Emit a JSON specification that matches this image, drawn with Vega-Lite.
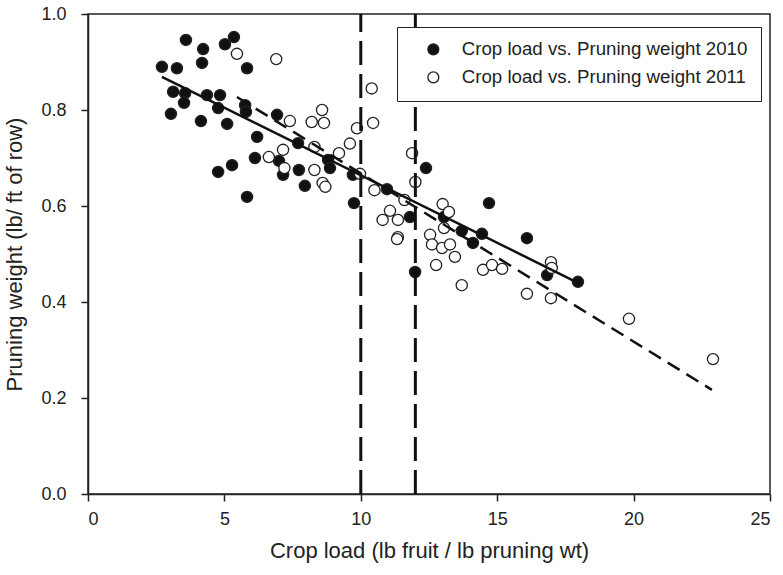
{
  "$schema": "https://vega.github.io/schema/vega-lite/v6.json",
  "width": 682,
  "height": 480,
  "autosize": "none",
  "padding": {"left": 88, "top": 14, "right": 13, "bottom": 81},
  "background": "white",
  "config": {
    "font": "Liberation Sans",
    "view": {"stroke": "#222", "strokeWidth": 1.5},
    "axis": {"grid": false, "domainColor": "#222", "domainWidth": 1.5, "tickColor": "#222", "tickWidth": 1.5, "tickSize": 7, "labelColor": "#222", "titleColor": "#222", "labelFontSize": 18, "titleFontWeight": "normal", "labelFont": "Liberation Sans", "titleFont": "Liberation Sans"},
    "legend": {"orient": "none", "legendX": 309, "legendY": 13, "strokeColor": "#222", "fillColor": "white", "padding": 13, "symbolOffset": 14, "labelOffset": 19, "rowPadding": 8, "labelFontSize": 18.7, "labelColor": "#222", "labelLimit": 400, "symbolSize": 120, "symbolStrokeWidth": 1.3, "symbolStrokeColor": "#222", "symbolType": "circle"}
  },
  "datasets": {
    "pts": [
      {"load": 2.71, "pruning": 0.89, "series": "Crop load vs. Pruning weight 2010"},
      {"load": 3.26, "pruning": 0.887, "series": "Crop load vs. Pruning weight 2010"},
      {"load": 3.59, "pruning": 0.946, "series": "Crop load vs. Pruning weight 2010"},
      {"load": 4.22, "pruning": 0.927, "series": "Crop load vs. Pruning weight 2010"},
      {"load": 4.18, "pruning": 0.898, "series": "Crop load vs. Pruning weight 2010"},
      {"load": 5.02, "pruning": 0.937, "series": "Crop load vs. Pruning weight 2010"},
      {"load": 5.35, "pruning": 0.952, "series": "Crop load vs. Pruning weight 2010"},
      {"load": 5.83, "pruning": 0.887, "series": "Crop load vs. Pruning weight 2010"},
      {"load": 3.12, "pruning": 0.838, "series": "Crop load vs. Pruning weight 2010"},
      {"load": 3.56, "pruning": 0.835, "series": "Crop load vs. Pruning weight 2010"},
      {"load": 3.52, "pruning": 0.815, "series": "Crop load vs. Pruning weight 2010"},
      {"load": 4.36, "pruning": 0.831, "series": "Crop load vs. Pruning weight 2010"},
      {"load": 4.84, "pruning": 0.831, "series": "Crop load vs. Pruning weight 2010"},
      {"load": 4.77, "pruning": 0.804, "series": "Crop load vs. Pruning weight 2010"},
      {"load": 3.04, "pruning": 0.792, "series": "Crop load vs. Pruning weight 2010"},
      {"load": 4.14, "pruning": 0.777, "series": "Crop load vs. Pruning weight 2010"},
      {"load": 5.10, "pruning": 0.771, "series": "Crop load vs. Pruning weight 2010"},
      {"load": 5.76, "pruning": 0.81, "series": "Crop load vs. Pruning weight 2010"},
      {"load": 5.79, "pruning": 0.796, "series": "Crop load vs. Pruning weight 2010"},
      {"load": 6.20, "pruning": 0.744, "series": "Crop load vs. Pruning weight 2010"},
      {"load": 6.12, "pruning": 0.70, "series": "Crop load vs. Pruning weight 2010"},
      {"load": 5.28, "pruning": 0.685, "series": "Crop load vs. Pruning weight 2010"},
      {"load": 4.77, "pruning": 0.671, "series": "Crop load vs. Pruning weight 2010"},
      {"load": 5.83, "pruning": 0.619, "series": "Crop load vs. Pruning weight 2010"},
      {"load": 6.93, "pruning": 0.79, "series": "Crop load vs. Pruning weight 2010"},
      {"load": 7.70, "pruning": 0.731, "series": "Crop load vs. Pruning weight 2010"},
      {"load": 8.80, "pruning": 0.696, "series": "Crop load vs. Pruning weight 2010"},
      {"load": 8.87, "pruning": 0.679, "series": "Crop load vs. Pruning weight 2010"},
      {"load": 7.00, "pruning": 0.694, "series": "Crop load vs. Pruning weight 2010"},
      {"load": 7.15, "pruning": 0.665, "series": "Crop load vs. Pruning weight 2010"},
      {"load": 7.73, "pruning": 0.675, "series": "Crop load vs. Pruning weight 2010"},
      {"load": 7.95, "pruning": 0.642, "series": "Crop load vs. Pruning weight 2010"},
      {"load": 9.71, "pruning": 0.665, "series": "Crop load vs. Pruning weight 2010"},
      {"load": 9.75, "pruning": 0.606, "series": "Crop load vs. Pruning weight 2010"},
      {"load": 10.96, "pruning": 0.635, "series": "Crop load vs. Pruning weight 2010"},
      {"load": 11.80, "pruning": 0.577, "series": "Crop load vs. Pruning weight 2010"},
      {"load": 12.39, "pruning": 0.679, "series": "Crop load vs. Pruning weight 2010"},
      {"load": 11.99, "pruning": 0.4625, "series": "Crop load vs. Pruning weight 2010"},
      {"load": 13.05, "pruning": 0.577, "series": "Crop load vs. Pruning weight 2010"},
      {"load": 13.70, "pruning": 0.548, "series": "Crop load vs. Pruning weight 2010"},
      {"load": 14.44, "pruning": 0.542, "series": "Crop load vs. Pruning weight 2010"},
      {"load": 14.11, "pruning": 0.523, "series": "Crop load vs. Pruning weight 2010"},
      {"load": 14.70, "pruning": 0.606, "series": "Crop load vs. Pruning weight 2010"},
      {"load": 16.09, "pruning": 0.533, "series": "Crop load vs. Pruning weight 2010"},
      {"load": 16.83, "pruning": 0.456, "series": "Crop load vs. Pruning weight 2010"},
      {"load": 17.96, "pruning": 0.442, "series": "Crop load vs. Pruning weight 2010"},
      {"load": 5.46, "pruning": 0.917, "series": "Crop load vs. Pruning weight 2011"},
      {"load": 6.90, "pruning": 0.906, "series": "Crop load vs. Pruning weight 2011"},
      {"load": 7.40, "pruning": 0.777, "series": "Crop load vs. Pruning weight 2011"},
      {"load": 8.58, "pruning": 0.80, "series": "Crop load vs. Pruning weight 2011"},
      {"load": 8.20, "pruning": 0.775, "series": "Crop load vs. Pruning weight 2011"},
      {"load": 8.65, "pruning": 0.773, "series": "Crop load vs. Pruning weight 2011"},
      {"load": 8.30, "pruning": 0.723, "series": "Crop load vs. Pruning weight 2011"},
      {"load": 8.30, "pruning": 0.675, "series": "Crop load vs. Pruning weight 2011"},
      {"load": 7.15, "pruning": 0.717, "series": "Crop load vs. Pruning weight 2011"},
      {"load": 6.63, "pruning": 0.702, "series": "Crop load vs. Pruning weight 2011"},
      {"load": 7.20, "pruning": 0.679, "series": "Crop load vs. Pruning weight 2011"},
      {"load": 8.60, "pruning": 0.648, "series": "Crop load vs. Pruning weight 2011"},
      {"load": 8.70, "pruning": 0.64, "series": "Crop load vs. Pruning weight 2011"},
      {"load": 9.97, "pruning": 0.667, "series": "Crop load vs. Pruning weight 2011"},
      {"load": 9.86, "pruning": 0.762, "series": "Crop load vs. Pruning weight 2011"},
      {"load": 10.45, "pruning": 0.773, "series": "Crop load vs. Pruning weight 2011"},
      {"load": 10.40, "pruning": 0.845, "series": "Crop load vs. Pruning weight 2011"},
      {"load": 9.60, "pruning": 0.73, "series": "Crop load vs. Pruning weight 2011"},
      {"load": 9.20, "pruning": 0.71, "series": "Crop load vs. Pruning weight 2011"},
      {"load": 10.50, "pruning": 0.633, "series": "Crop load vs. Pruning weight 2011"},
      {"load": 11.60, "pruning": 0.6125, "series": "Crop load vs. Pruning weight 2011"},
      {"load": 11.07, "pruning": 0.59, "series": "Crop load vs. Pruning weight 2011"},
      {"load": 10.80, "pruning": 0.571, "series": "Crop load vs. Pruning weight 2011"},
      {"load": 11.36, "pruning": 0.571, "series": "Crop load vs. Pruning weight 2011"},
      {"load": 11.36, "pruning": 0.535, "series": "Crop load vs. Pruning weight 2011"},
      {"load": 11.33, "pruning": 0.531, "series": "Crop load vs. Pruning weight 2011"},
      {"load": 11.88, "pruning": 0.71, "series": "Crop load vs. Pruning weight 2011"},
      {"load": 12.00, "pruning": 0.65, "series": "Crop load vs. Pruning weight 2011"},
      {"load": 13.00, "pruning": 0.604, "series": "Crop load vs. Pruning weight 2011"},
      {"load": 13.23, "pruning": 0.5875, "series": "Crop load vs. Pruning weight 2011"},
      {"load": 13.05, "pruning": 0.554, "series": "Crop load vs. Pruning weight 2011"},
      {"load": 12.54, "pruning": 0.54, "series": "Crop load vs. Pruning weight 2011"},
      {"load": 12.61, "pruning": 0.52, "series": "Crop load vs. Pruning weight 2011"},
      {"load": 12.98, "pruning": 0.5125, "series": "Crop load vs. Pruning weight 2011"},
      {"load": 13.27, "pruning": 0.52, "series": "Crop load vs. Pruning weight 2011"},
      {"load": 13.45, "pruning": 0.494, "series": "Crop load vs. Pruning weight 2011"},
      {"load": 12.76, "pruning": 0.477, "series": "Crop load vs. Pruning weight 2011"},
      {"load": 13.70, "pruning": 0.435, "series": "Crop load vs. Pruning weight 2011"},
      {"load": 14.48, "pruning": 0.467, "series": "Crop load vs. Pruning weight 2011"},
      {"load": 14.81, "pruning": 0.477, "series": "Crop load vs. Pruning weight 2011"},
      {"load": 15.18, "pruning": 0.469, "series": "Crop load vs. Pruning weight 2011"},
      {"load": 16.97, "pruning": 0.483, "series": "Crop load vs. Pruning weight 2011"},
      {"load": 17.00, "pruning": 0.471, "series": "Crop load vs. Pruning weight 2011"},
      {"load": 16.09, "pruning": 0.417, "series": "Crop load vs. Pruning weight 2011"},
      {"load": 16.97, "pruning": 0.408, "series": "Crop load vs. Pruning weight 2011"},
      {"load": 19.83, "pruning": 0.365, "series": "Crop load vs. Pruning weight 2011"},
      {"load": 22.91, "pruning": 0.281, "series": "Crop load vs. Pruning weight 2011"}
    ],
    "reg2010": [
      {"load": 2.71, "pruning": 0.869},
      {"load": 17.96, "pruning": 0.44}
    ],
    "reg2011": [
      {"load": 5.46, "pruning": 0.827},
      {"load": 22.87, "pruning": 0.217}
    ],
    "vlines": [
      {"load": 10, "pruning": 0, "top": 1},
      {"load": 12, "pruning": 0, "top": 1}
    ]
  },
  "encoding": {
    "x": {"field": "load", "type": "quantitative", "scale": {"domain": [0, 25], "nice": false, "zero": false},
      "axis": {"values": [0, 5, 10, 15, 20, 25], "title": "Crop load (lb fruit / lb pruning wt)", "titleFontSize": 22, "titlePadding": 12, "labelPadding": 9}},
    "y": {"field": "pruning", "type": "quantitative", "scale": {"domain": [0, 1], "nice": false},
      "axis": {"values": [0, 0.2, 0.4, 0.6, 0.8, 1.0], "format": ".1f", "title": "Pruning weight (lb/ ft of row)", "titleFontSize": 22, "titlePadding": 14, "labelPadding": 15}}
  },
  "layer": [
    {
      "data": {"name": "pts"},
      "mark": {"type": "point", "filled": true, "shape": "circle", "size": 125, "stroke": "#222", "strokeWidth": 1.3, "opacity": 1},
      "encoding": {
        "fill": {"field": "series", "type": "nominal",
          "scale": {"domain": ["Crop load vs. Pruning weight 2010", "Crop load vs. Pruning weight 2011"], "range": ["#111111", "#ffffff"]},
          "legend": {"title": null}}
      }
    },
    {
      "data": {"name": "reg2010"},
      "mark": {"type": "line", "color": "#111", "strokeWidth": 2.5},
      "encoding": {}
    },
    {
      "data": {"name": "reg2011"},
      "mark": {"type": "line", "color": "#111", "strokeWidth": 2.5, "strokeDash": [14, 8]},
      "encoding": {}
    },
    {
      "data": {"name": "vlines"},
      "mark": {"type": "rule", "color": "#111", "strokeWidth": 3, "strokeDash": [24, 9]},
      "encoding": {"y2": {"field": "top"}}
    }
  ]
}
